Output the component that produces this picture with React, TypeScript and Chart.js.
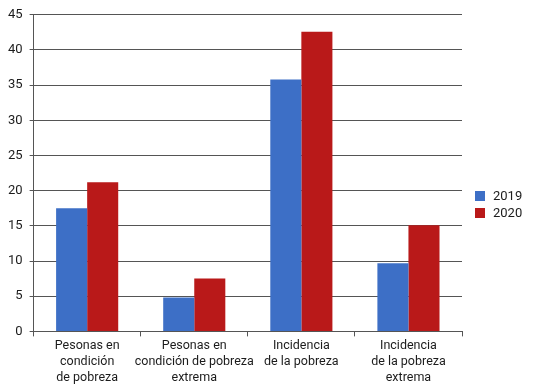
import React, { useEffect, useRef } from "react";
import { Chart, registerables } from "chart.js";

Chart.register(...registerables);

const categories: string[][] = [
  ["Pesonas en", "condición", "de pobreza"],
  ["Pesonas en", "condición de pobreza", "extrema"],
  ["Incidencia", "de la pobreza"],
  ["Incidencia", "de la pobreza", "extrema"],
];
const seriesNames = ["2019", "2020"];
const values2019 = [17.5, 4.8, 35.8, 9.7];
const values2020 = [21.2, 7.5, 42.6, 15.1];
const yTicks = [0, 5, 10, 15, 20, 25, 30, 35, 40, 45];
const seriesColors = ["#3D6FC6", "#B91919"];

const FONT = "Roboto, 'Liberation Sans', sans-serif";
const TEXT = "#1c1c1c";

const sideLegend = {
  id: "sideLegend",
  afterDraw(chart: any) {
    const ctx = chart.ctx as CanvasRenderingContext2D;
    const area = chart.chartArea;
    const x = area.right + 13;
    const startY = chart.height / 2 - 3;
    const box = 10;
    const step = 17;
    ctx.save();
    ctx.font = `13px ${FONT}`;
    ctx.textBaseline = "middle";
    ctx.textAlign = "left";
    chart.data.datasets.forEach((ds: any, i: number) => {
      const y = startY + i * step;
      ctx.fillStyle = ds.backgroundColor;
      ctx.fillRect(x, y, box, box);
      ctx.fillStyle = TEXT;
      ctx.fillText(ds.label, x + box + 8, y + box / 2 + 0.5);
    });
    ctx.restore();
  },
};

export default function App() {
  const ref = useRef<HTMLCanvasElement | null>(null);
  useEffect(() => {
    document.body.style.margin = "0";
    const canvas = ref.current;
    if (!canvas) return;
    const chart = new Chart(canvas, {
      type: "bar",
      data: {
        labels: categories,
        datasets: [
          { label: seriesNames[0], data: values2019, backgroundColor: seriesColors[0] },
          { label: seriesNames[1], data: values2020, backgroundColor: seriesColors[1] },
        ],
      },
      options: {
        animation: false,
        responsive: false,
        maintainAspectRatio: false,
        layout: { padding: { top: 11, right: 71, bottom: 0, left: 1 } },
        datasets: {
          bar: { categoryPercentage: 0.58, barPercentage: 1.0 },
        },
        plugins: {
          legend: { display: false },
          tooltip: { enabled: false },
        },
        scales: {
          x: {
            offset: true,
            grid: {
              display: true,
              offset: true,
              drawOnChartArea: false,
              drawTicks: true,
              tickLength: 5,
              color: "#555",
            },
            border: { display: true, color: "#555" },
            ticks: {
              color: TEXT,
              font: { family: FONT, size: 12.5, lineHeight: 1.27 },
              padding: 2,
              maxRotation: 0,
              autoSkip: false,
            },
          },
          y: {
            min: 0,
            max: 45,
            afterBuildTicks: (axis: any) => {
              axis.ticks = yTicks.map((v) => ({ value: v }));
            },
            grid: {
              color: "#555",
              tickLength: 4,
              lineWidth: 1,
            },
            border: { display: true, color: "#555" },
            ticks: {
              color: TEXT,
              font: { family: FONT, size: 13 },
              padding: 7,
            },
          },
        },
      },
      plugins: [sideLegend],
    } as any);
    return () => chart.destroy();
  }, []);
  return (
    <div style={{ width: 533, height: 388 }}>
      <canvas ref={ref} width={533} height={388} style={{ width: 533, height: 388, display: "block" }} />
    </div>
  );
}
